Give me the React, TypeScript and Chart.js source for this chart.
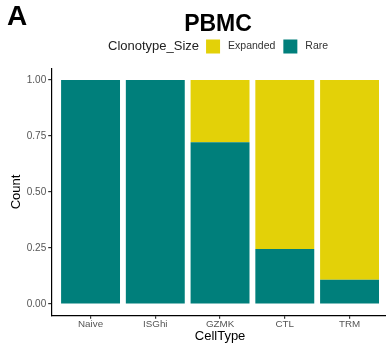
import React, { useEffect, useRef } from "react";
import { Chart, registerables } from "chart.js";

Chart.register(...registerables);

const categories = ["Naive", "ISGhi", "GZMK", "CTL", "TRM"];
const rareValues = [1, 1, 0.722, 0.245, 0.108];
const expandedValues = [0, 0, 0.278, 0.755, 0.892];
const yTicks = [0, 0.25, 0.5, 0.75, 1];
const seriesLabels = ["Rare", "Expanded"];
const seriesColors = ["#007F7B", "#E3D108"];

const FONT = "'Liberation Sans', Arial, Helvetica, sans-serif";

const overlayPlugin = {
  id: "overlayText",
  afterDraw(chart: any) {
    const ctx = chart.ctx;
    ctx.save();
    // Panel letter
    ctx.fillStyle = "#000";
    ctx.textAlign = "left";
    ctx.textBaseline = "alphabetic";
    ctx.font = `bold 28px ${FONT}`;
    ctx.fillText("A", 7, 25);
    // Title
    ctx.textAlign = "center";
    ctx.font = `bold 23px ${FONT}`;
    ctx.fillText("PBMC", 218, 31);
    // Legend
    ctx.textAlign = "left";
    ctx.textBaseline = "middle";
    ctx.font = `13px ${FONT}`;
    ctx.fillStyle = "#222";
    const legendTitle = "Clonotype_Size";
    ctx.fillText(legendTitle, 108, 46.5);
    let x = 108 + ctx.measureText(legendTitle).width + 7;
    const ds = chart.data.datasets.slice().reverse();
    ctx.font = `10.5px ${FONT}`;
    for (const d of ds) {
      ctx.fillStyle = d.backgroundColor;
      ctx.fillRect(x, 39.5, 14, 14);
      x += 14 + 8;
      ctx.fillStyle = "#333";
      ctx.fillText(d.label, x, 46.5);
      x += ctx.measureText(d.label).width + 8;
    }
    ctx.restore();
  },
};

export default function App() {
  const canvasRef = useRef<HTMLCanvasElement | null>(null);

  useEffect(() => {
    document.body.style.margin = "0";
    const canvas = canvasRef.current;
    if (!canvas) return;
    const toPoints = (vals: number[]) => vals.map((v, i) => ({ x: i + 1, y: v }));
    const chart = new Chart(canvas, {
      type: "bar",
      data: {
        datasets: [
          {
            label: seriesLabels[0],
            data: toPoints(rareValues),
            backgroundColor: seriesColors[0],
            borderWidth: 0,
          },
          {
            label: seriesLabels[1],
            data: toPoints(expandedValues),
            backgroundColor: seriesColors[1],
            borderWidth: 0,
          },
        ],
      } as any,
      options: {
        animation: false,
        responsive: false,
        maintainAspectRatio: false,
        layout: { padding: { left: 0, right: 1.6, top: 68.8, bottom: 0 } },
        datasets: { bar: { categoryPercentage: 0.91, barPercentage: 1 } } as any,
        plugins: {
          legend: { display: false },
          tooltip: { enabled: false },
          title: { display: false },
        },
        scales: {
          x: {
            type: "linear",
            stacked: true,
            min: 0.4,
            max: 5.6,
            offset: false,
            afterBuildTicks: (scale: any) => {
              scale.ticks = categories.map((_, i) => ({ value: i + 1 }));
            },
            afterFit: (scale: any) => {
              scale.height = 28.8;
            },
            ticks: {
              autoSkip: false,
              maxRotation: 0,
              padding: 0,
              color: "#555",
              font: { family: FONT, size: 9.8 },
              callback: (v: any) => categories[Math.round(Number(v)) - 1] ?? "",
            },
            grid: {
              display: true,
              offset: false,
              drawOnChartArea: false,
              drawTicks: true,
              tickLength: 3.5,
              color: "#333",
              lineWidth: 1.2,
            },
            border: { display: true, color: "#000", width: 1.2 },
            title: {
              display: true,
              text: "CellType",
              color: "#000",
              font: { family: FONT, size: 13 },
              padding: { top: 0, bottom: 0 },
            },
          },
          y: {
            type: "linear",
            stacked: true,
            min: -0.05,
            max: 1.05,
            afterBuildTicks: (scale: any) => {
              scale.ticks = yTicks.map((v) => ({ value: v }));
            },
            afterFit: (scale: any) => {
              scale.width = 51.7;
            },
            ticks: {
              padding: 2,
              color: "#555",
              font: { family: FONT, size: 10 },
              callback: (v: any) => Number(v).toFixed(2),
            },
            grid: {
              display: true,
              offset: false,
              drawOnChartArea: false,
              drawTicks: true,
              tickLength: 3.5,
              color: "#333",
              lineWidth: 1.2,
            },
            border: { display: true, color: "#000", width: 1.2 },
            title: {
              display: true,
              text: "Count",
              color: "#000",
              font: { family: FONT, size: 13 },
              padding: { top: 8.2, bottom: 0 },
            },
          },
        },
      } as any,
      plugins: [overlayPlugin],
    });
    return () => chart.destroy();
  }, []);

  return (
    <div style={{ position: "relative", width: 386, height: 344, overflow: "hidden", background: "#fff" }}>
      <canvas ref={canvasRef} width={390} height={344} style={{ display: "block" }} />
    </div>
  );
}
